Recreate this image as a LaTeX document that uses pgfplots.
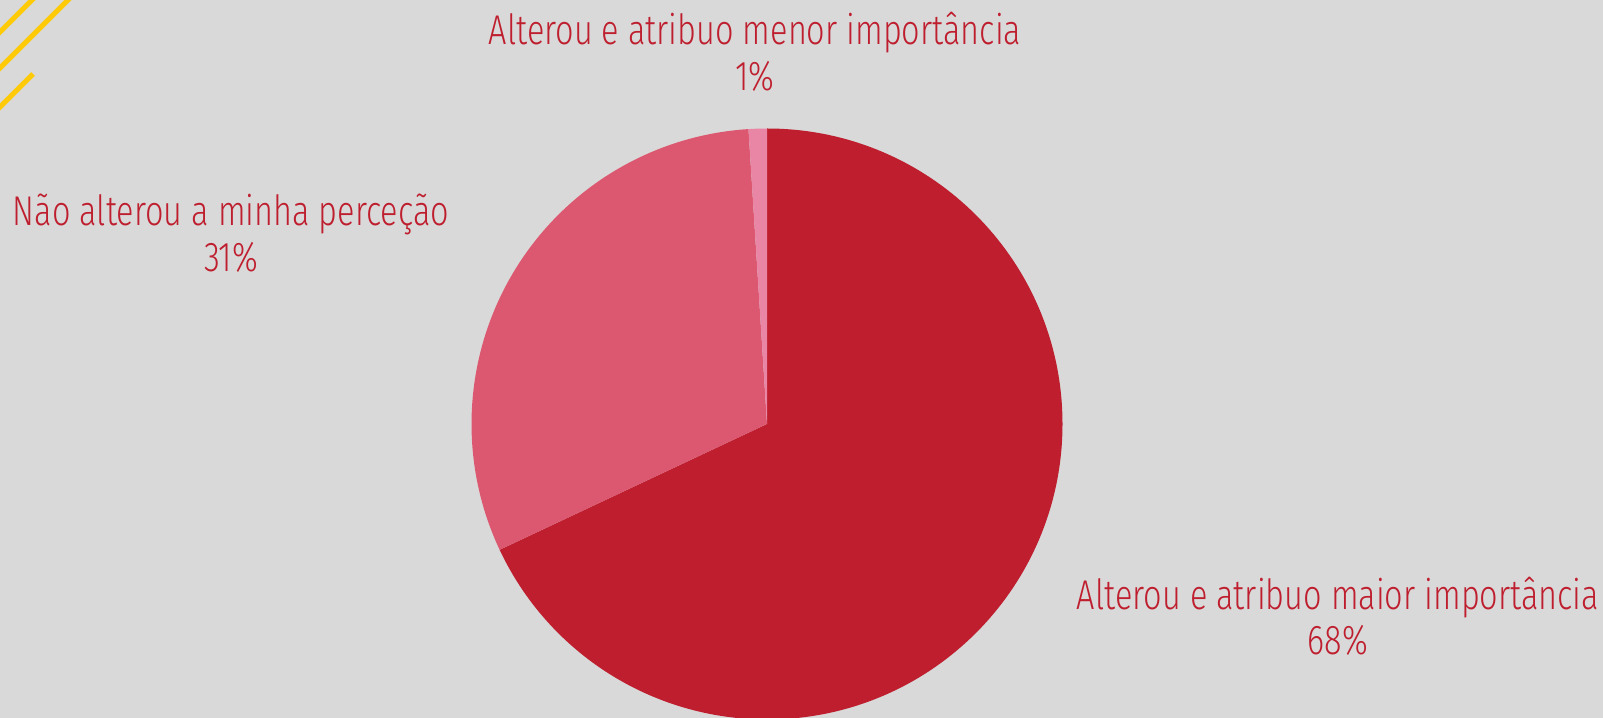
\documentclass[border=0pt]{standalone}
\usepackage{pgfplots}
\pgfplotsset{compat=1.18}
\usepackage{pgfplotstable}
\usepackage{fontspec}
\setmainfont{Fira Sans Light}[FakeStretch=0.78]
\definecolor{bg}{RGB}{217,217,217}
\definecolor{cRed}{RGB}{190,30,46}
\definecolor{cPink}{RGB}{220,88,112}
\definecolor{cLight}{RGB}{233,134,166}
\definecolor{cYel}{RGB}{255,202,10}
\pgfplotstableread{
pct
68
31
1
}\piedata
\tikzset{lbl/.style={font=\fontsize{20.8}{24}\selectfont,text=cRed,inner sep=0pt,anchor=base}}
\begin{document}
\begin{tikzpicture}
\pgfplotstablegetelem{0}{pct}\of\piedata\pgfmathsetmacro\pa{\pgfplotsretval}
\pgfplotstablegetelem{1}{pct}\of\piedata\pgfmathsetmacro\pb{\pgfplotsretval}
\pgfplotstablegetelem{2}{pct}\of\piedata\pgfmathsetmacro\pc{\pgfplotsretval}
\pgfmathsetmacro\angA{90-3.6*\pa}
\pgfmathsetmacro\angB{\angA-3.6*\pb}
\pgfmathsetmacro\angC{\angB-3.6*\pc}
\fill[bg] (0,0) rectangle (801.5pt,359pt);
\begin{axis}[at={(0,0)},anchor=south west,x=0.5pt,y=0.5pt,
  xmin=0,xmax=1603,ymin=0,ymax=718,hide axis,clip=false]
\fill[cRed] (axis cs:767,294) -- ++(90:147.75pt) arc[start angle=90,end angle=\angA,radius=147.75pt] -- cycle;
\fill[cPink] (axis cs:767,294) -- ++(\angA:147.75pt) arc[start angle=\angA,end angle=\angB,radius=147.75pt] -- cycle;
\fill[cLight] (axis cs:767,294) -- ++(\angB:147.75pt) arc[start angle=\angB,end angle=\angC,radius=147.75pt] -- cycle;
\node[lbl] at (axis cs:755,673) {Alterou e atribuo menor importância};
\node[lbl] at (axis cs:755,627) {1\%};
\node[lbl] at (axis cs:231,492) {Não alterou a minha perceção};
\node[lbl] at (axis cs:231,446) {31\%};
\node[lbl] at (axis cs:1338,108) {Alterou e atribuo maior importância};
\node[lbl] at (axis cs:1338,63) {68\%};
\end{axis}
\draw[cYel,line width=2.5pt] (-3pt,340pt) -- (18pt,361pt);
\draw[cYel,line width=2.5pt] (-3pt,322pt) -- (36pt,361pt);
\draw[cYel,line width=2.5pt] (-3pt,302.5pt) -- (16.5pt,322pt);
\pgfresetboundingbox
\useasboundingbox (0,0) rectangle (801.5pt,359pt);
\end{tikzpicture}
\end{document}
